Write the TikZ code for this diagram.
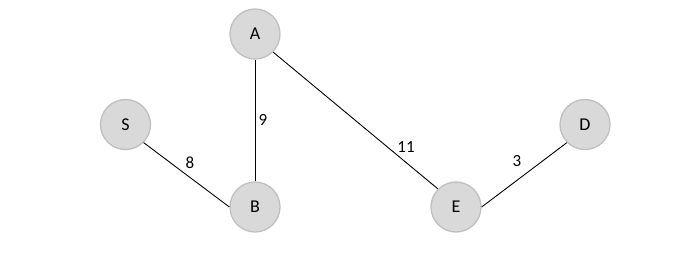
\documentclass[tikz,border=0pt]{standalone}
\usepackage{fontspec}
\setmainfont{Carlito}
\definecolor{nodefill}{HTML}{D9D9D9}
\definecolor{nodeborder}{HTML}{BFBFBF}
\begin{document}
\begin{tikzpicture}[x=1pt,y=-1pt,
  vertex/.style={circle,fill=nodefill,draw=nodeborder,line width=1.3pt,minimum size=50pt,inner sep=0pt,font=\fontsize{18}{21}\selectfont},
  edge/.style={draw=black,line width=0.9pt},
  wlabel/.style={font=\fontsize{17}{20}\selectfont,inner sep=0pt}]
\useasboundingbox (0,0) rectangle (700,258);
\node[vertex] (A) at (255,34) {A};
\node[vertex] (S) at (125.5,124.5) {S};
\node[vertex] (B) at (255,207) {B};
\node[vertex] (E) at (456,207) {E};
\node[vertex] (D) at (585,124.5) {D};
\draw[edge] (A.south) -- (B.north);
\draw[edge] (S.south east) -- (B.west);
\draw[edge] (A.south east) -- (E.north west);
\draw[edge] (E.east) -- (D.south west);
\node[wlabel] (l9) at (263,120) {9};
\node[wlabel] (l8) at (190,163) {8};
\node[wlabel] (l11) at (406,147) {11};
\node[wlabel] (l3) at (517,161) {3};
\end{tikzpicture}
\end{document}
